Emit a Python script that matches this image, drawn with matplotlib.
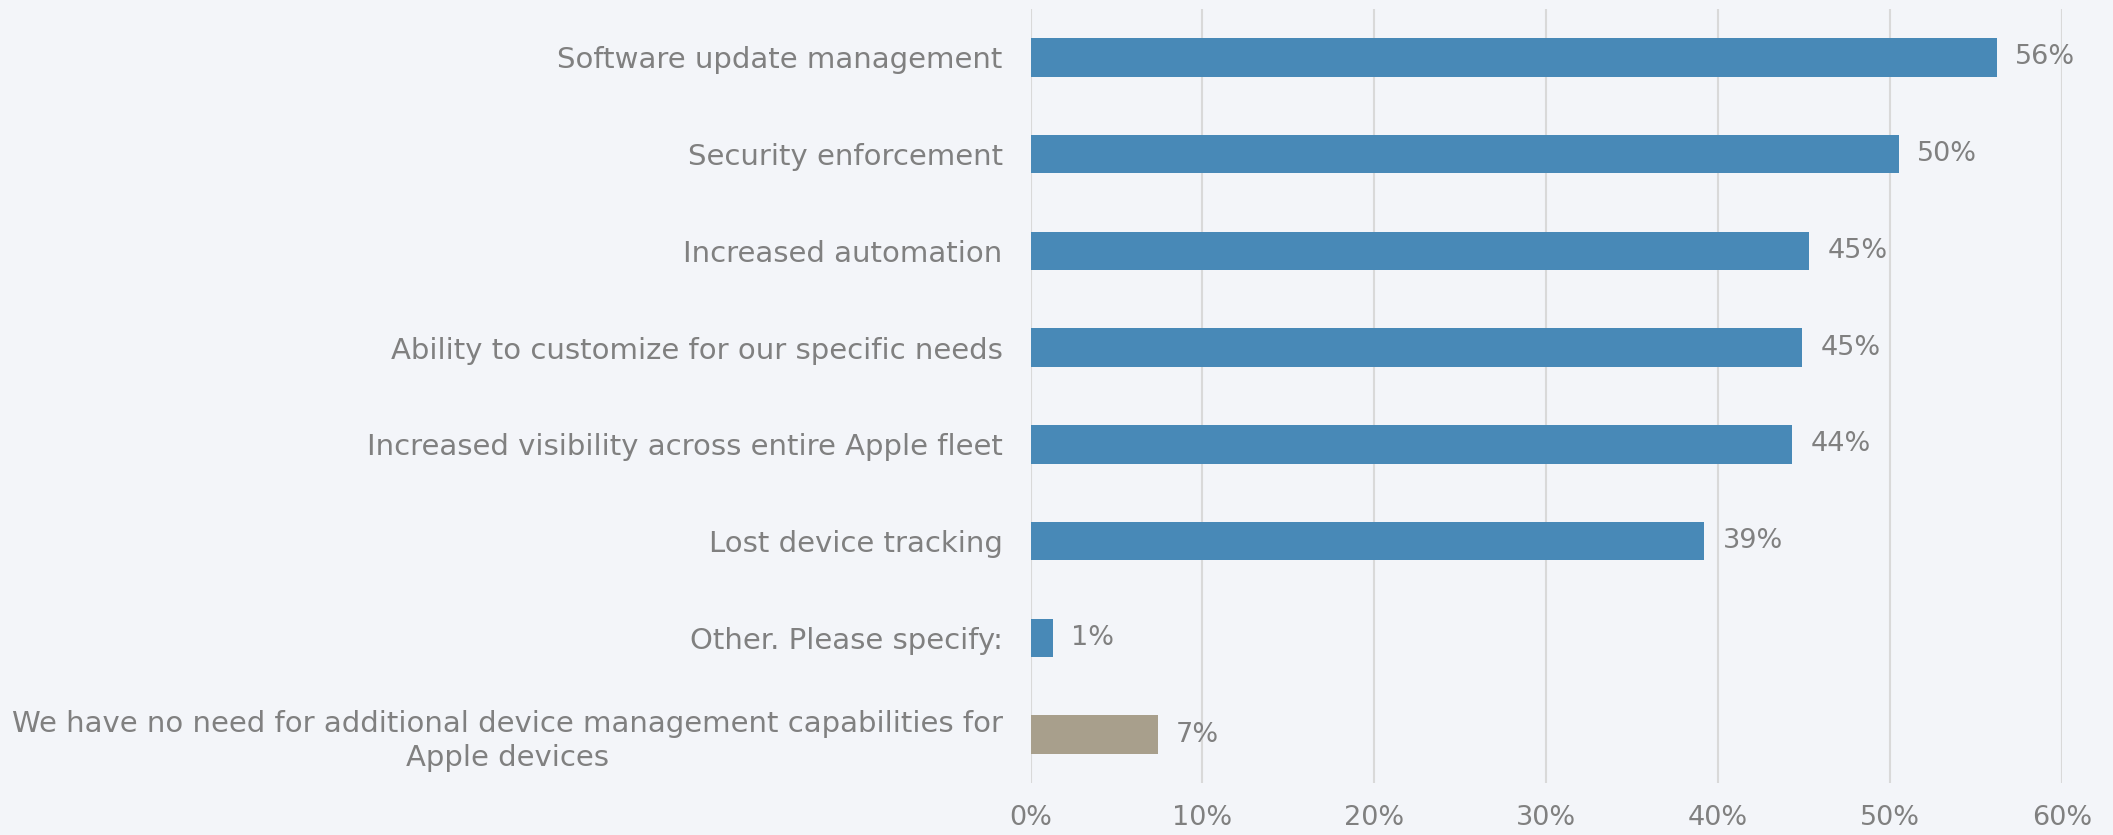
import matplotlib
matplotlib.use("Agg")
import matplotlib.pyplot as plt
from matplotlib.ticker import PercentFormatter

categories = [
    "Software update management",
    "Security enforcement",
    "Increased automation",
    "Ability to customize for our specific needs",
    "Increased visibility across entire Apple fleet",
    "Lost device tracking",
    "Other. Please specify:",
    "We have no need for additional device management capabilities for\nApple devices",
]
shares = [0.562, 0.505, 0.453, 0.449, 0.443, 0.392, 0.013, 0.074]
bar_colors = ["#4889B7"] * 7 + ["#A89F8C"]
x_ticks = [0.0, 0.1, 0.2, 0.3, 0.4, 0.5, 0.6]

BG = "#F3F5F9"
TEXT = "#808080"
GRID = "#D9D9D9"

plt.rcParams["font.family"] = ["DejaVu Sans"]

fig = plt.figure(figsize=(21.13, 8.35), dpi=100, facecolor=BG)
ax = fig.add_axes([0.4877, 0.0623, 0.9759 - 0.4877, 0.9892 - 0.0623])
ax.set_facecolor(BG)

ypos = list(range(len(categories)))
ax.barh(ypos, shares, height=0.4, color=bar_colors, linewidth=0, zorder=3)

for y, v in zip(ypos, shares):
    ax.annotate(f"{round(v * 100):.0f}%", xy=(v, y), xytext=(13, 0),
                textcoords="offset points", ha="left", va="center",
                fontsize=19.5, color=TEXT)

ax.set_ylim(len(categories) - 0.5, -0.5)
ax.set_xlim(0, 0.6)
ax.set_xticks(x_ticks)
ax.xaxis.set_major_formatter(PercentFormatter(1.0, decimals=0))
ax.set_yticks(ypos)
ax.set_yticklabels(categories, multialignment="center", linespacing=1.3)

ax.tick_params(axis="y", length=0, pad=20, labelsize=21, labelcolor=TEXT)
ax.tick_params(axis="x", length=0, pad=16, labelsize=19.5, labelcolor=TEXT)

ax.grid(axis="x", color=GRID, linewidth=1.5, zorder=0)
ax.grid(axis="y", visible=False)
for side in ("top", "right", "bottom", "left"):
    ax.spines[side].set_visible(False)

fig.savefig("out.png", dpi=100, facecolor=BG)
